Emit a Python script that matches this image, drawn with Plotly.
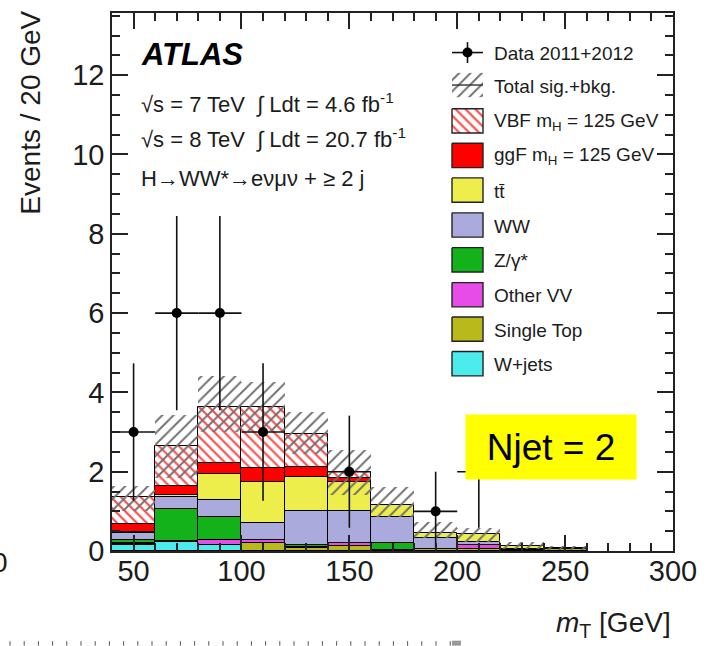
import numpy as np
import plotly.graph_objects as go

# ---------------------------------------------------------------- data
bin_lo = [40, 60, 80, 100, 120, 140, 160, 180, 200, 220, 240]
bin_width = 20

w_jets     = [0.15, 0.23, 0.15, 0.00, 0.00, 0.00, 0.00, 0.00, 0.00, 0.00, 0.00]
single_top = [0.03, 0.02, 0.00, 0.19, 0.07, 0.12, 0.03, 0.05, 0.06, 0.02, 0.04]
other_vv   = [0.03, 0.00, 0.12, 0.08, 0.04, 0.09, 0.00, 0.00, 0.09, 0.04, 0.00]
z_gamma    = [0.08, 0.80, 0.59, 0.00, 0.04, 0.00, 0.16, 0.00, 0.00, 0.00, 0.00]
ww         = [0.17, 0.30, 0.42, 0.44, 0.86, 0.80, 0.67, 0.27, 0.08, 0.00, 0.00]
ttbar      = [0.03, 0.06, 0.67, 1.03, 0.86, 0.73, 0.30, 0.14, 0.20, 0.07, 0.03]
ggf        = [0.19, 0.23, 0.27, 0.36, 0.25, 0.11, 0.00, 0.00, 0.00, 0.00, 0.00]
vbf        = [0.69, 1.00, 1.41, 1.53, 0.82, 0.14, 0.00, 0.00, 0.00, 0.00, 0.00]

band_up    = [0.27, 0.78, 0.79, 0.62, 0.56, 0.56, 0.46, 0.28, 0.16, 0.09, 0.05]
band_down  = [0.35, 0.80, 0.63, 0.60, 0.50, 0.58, 0.30, 0.14, 0.20, 0.07, 0.05]

data_x = [50, 70, 90, 110, 150, 190, 210]
data_y = [3, 6, 6, 3, 2, 1, 2]

x_ticks = [50, 100, 150, 200, 250, 300]
y_ticks = [0, 2, 4, 6, 8, 10, 12]

legend_labels = [
    "Data 2011+2012",
    "Total sig.+bkg.",
    "VBF m<sub>H</sub> = 125 GeV",
    "ggF m<sub>H</sub> = 125 GeV",
    "tt\u0304",
    "WW",
    "Z/\u03b3*",
    "Other VV",
    "Single Top",
    "W+jets",
]

# ---------------------------------------------------------------- style
FONT = "Liberation Sans, Arial, sans-serif"
INK = "#1c1c1c"

# stack order, bottom to top
stack = [
    ("W+jets",     w_jets,     "#4cecec"),
    ("Single Top", single_top, "#b9b91c"),
    ("Other VV",   other_vv,   "#e84ce8"),
    ("Z/gamma*",   z_gamma,    "#14b21a"),
    ("WW",         ww,         "#aaaadc"),
    ("ttbar",      ttbar,      "#eded4c"),
    ("ggF",        ggf,        "#ff0000"),
    ("VBF",        vbf,        None),
]

centers = np.array(bin_lo) + bin_width / 2

fig = go.Figure()

base = np.zeros(len(bin_lo))
for name, vals, color in stack:
    vals = np.array(vals, dtype=float)
    y = [v if v > 0 else None for v in vals]
    if color is None:
        marker = dict(color="white",
                      pattern=dict(shape="\\", fgcolor="#ff4a4a", bgcolor="white",
                                   size=7, solidity=0.3, fillmode="replace"),
                      line=dict(color="black", width=1))
    else:
        marker = dict(color=color, line=dict(color="black", width=1))
    fig.add_trace(go.Bar(x=centers, y=y, base=base.copy(), width=bin_width,
                         marker=marker, name=name, showlegend=False,
                         hoverinfo="skip"))
    base += vals

total = base
up = np.array(band_up)
dn = np.array(band_down)
fig.add_trace(go.Bar(
    x=centers, y=up + dn, base=total - dn, width=bin_width,
    marker=dict(color="rgba(0,0,0,0)",
                pattern=dict(shape="/", fgcolor="#707070", size=8, solidity=0.24,
                             fillmode="replace"),
                line=dict(width=0)),
    showlegend=False, hoverinfo="skip"))

dy = np.sqrt(np.array(data_y, dtype=float))
fig.add_trace(go.Scatter(
    x=data_x, y=data_y, mode="markers",
    marker=dict(color="black", size=10),
    error_y=dict(type="data", array=dy, color="#111", thickness=1.6, width=0),
    error_x=dict(type="constant", value=bin_width / 2, color="#111",
                 thickness=1.6, width=0),
    showlegend=False, hoverinfo="skip"))

# ---------------------------------------------------------------- legend (pixel overlay axes)
L_X0, L_X1 = 452, 483
row_y = [50.7, 83.3, 119.3, 154.0, 188.7, 223.8, 258.7, 293.8, 328.3, 363.0]
half_h = 12.2


def box(y):
    return [L_X0, L_X1, L_X1, L_X0, L_X0], [y - half_h, y - half_h, y + half_h, y + half_h, y - half_h]


# data marker
fig.add_trace(go.Scatter(x=[L_X0, L_X1], y=[row_y[0]] * 2, mode="lines",
                         line=dict(color="#111", width=1.6), xaxis="x2", yaxis="y2",
                         showlegend=False, hoverinfo="skip"))
mid = (L_X0 + L_X1) / 2
fig.add_trace(go.Scatter(x=[mid, mid], y=[row_y[0] - 10.5, row_y[0] + 10.5], mode="lines",
                         line=dict(color="#111", width=1.6), xaxis="x2", yaxis="y2",
                         showlegend=False, hoverinfo="skip"))
fig.add_trace(go.Scatter(x=[mid], y=[row_y[0]], mode="markers",
                         marker=dict(color="black", size=10), xaxis="x2", yaxis="y2",
                         showlegend=False, hoverinfo="skip"))

# total band swatch
bx, by = box(row_y[1])
fig.add_trace(go.Scatter(x=bx, y=by, mode="lines", fill="toself",
                         fillcolor="rgba(0,0,0,0)",
                         fillpattern=dict(shape="/", fgcolor="#707070", size=8,
                                          solidity=0.24, fillmode="replace"),
                         line=dict(color="rgba(0,0,0,0)", width=0),
                         xaxis="x2", yaxis="y2", showlegend=False, hoverinfo="skip"))
fig.add_trace(go.Scatter(x=[L_X0, L_X1], y=[row_y[1]] * 2, mode="lines",
                         line=dict(color="#333", width=1.4), xaxis="x2", yaxis="y2",
                         showlegend=False, hoverinfo="skip"))

# process swatches (legend order is the stack reversed)
for (name, vals, color), y in zip(reversed(stack), row_y[2:]):
    bx, by = box(y)
    if color is None:
        fig.add_trace(go.Scatter(x=bx, y=by, mode="lines", fill="toself",
                                 fillcolor="white",
                                 fillpattern=dict(shape="\\", fgcolor="#ff4a4a",
                                                  bgcolor="white", size=7, solidity=0.3,
                                                  fillmode="replace"),
                                 line=dict(color="#222", width=1.4),
                                 xaxis="x2", yaxis="y2", showlegend=False,
                                 hoverinfo="skip"))
    else:
        fig.add_trace(go.Scatter(x=bx, y=by, mode="lines", fill="toself",
                                 fillcolor=color, line=dict(color="#222", width=1.4),
                                 xaxis="x2", yaxis="y2", showlegend=False,
                                 hoverinfo="skip"))

# ---------------------------------------------------------------- layout
PL, PR, PT, PB = 112, 673, 11, 551
W, H = 719, 646


def px(x):
    return (x - PL) / (PR - PL)


def py(y):
    return (PB - y) / (PB - PT)


annotations = []
for lab, y in zip(legend_labels, row_y):
    annotations.append(dict(text=lab, x=px(492), y=py(y + 1), xref="paper", yref="paper",
                            xanchor="left", yanchor="middle", showarrow=False,
                            font=dict(family=FONT, size=19, color=INK)))

annotations += [
    dict(text="<b><i>ATLAS</i></b>", x=px(139), y=py(53), xref="paper", yref="paper",
         xanchor="left", yanchor="middle", showarrow=False,
         font=dict(family=FONT, size=31, color="black")),
    dict(text="\u221as = 7 TeV  \u222b Ldt = 4.6 fb<sup>-1</sup>", x=px(139), y=py(101),
         xref="paper", yref="paper", xanchor="left", yanchor="middle", showarrow=False,
         font=dict(family=FONT, size=22, color=INK)),
    dict(text="\u221as = 8 TeV  \u222b Ldt = 20.7 fb<sup>-1</sup>", x=px(139), y=py(136),
         xref="paper", yref="paper", xanchor="left", yanchor="middle", showarrow=False,
         font=dict(family=FONT, size=22, color=INK)),
    dict(text="H\u2192WW*\u2192e\u03bd\u03bc\u03bd + \u2265 2 j", x=px(139), y=py(177),
         xref="paper", yref="paper", xanchor="left", yanchor="middle", showarrow=False,
         font=dict(family=FONT, size=22, color=INK)),
    dict(text="Njet = 2", x=px(551), y=py(447), xref="paper", yref="paper",
         xanchor="center", yanchor="middle", showarrow=False, width=170, height=64,
         bgcolor="#ffff00", borderpad=0,
         font=dict(family=FONT, size=37, color="black")),
    dict(text="Events / 20 GeV", x=px(31), y=py(111), xref="paper", yref="paper",
         xanchor="center", yanchor="middle", textangle=-90, showarrow=False,
         font=dict(family=FONT, size=28, color=INK)),
    dict(text="<i>m</i><sub>T</sub> [GeV]", x=px(673), y=py(625), xref="paper",
         yref="paper", xanchor="right", yanchor="middle", showarrow=False,
         font=dict(family=FONT, size=28, color=INK)),
    # neighbouring panel fragments at the page edges
    dict(text="0", x=px(0), y=py(563), xref="paper", yref="paper",
         xanchor="center", yanchor="middle", showarrow=False,
         font=dict(family=FONT, size=28, color=INK)),
]

# ruler-like axis fragment along the bottom edge of the page
shapes = []
for i in range(32):
    xp = 10 + 14.2 * i
    shapes.append(dict(type="line", xref="paper", yref="paper",
                       x0=px(xp), x1=px(xp), y0=py(641.5), y1=py(646),
                       line=dict(color="#555", width=1)))
shapes.append(dict(type="rect", xref="paper", yref="paper",
                   x0=px(452), x1=px(461), y0=py(641), y1=py(646),
                   fillcolor="#999", line=dict(width=0)))

axis_common = dict(
    ticks="inside", ticklen=16, tickwidth=1.5, tickcolor="#222",
    showline=True, linecolor="#222", linewidth=1.6, mirror="ticks",
    showgrid=False, zeroline=False,
    tickfont=dict(family=FONT, size=29, color=INK),
)

fig.update_layout(
    width=W, height=H,
    margin=dict(l=PL, r=W - PR, t=PT, b=H - PB),
    paper_bgcolor="white", plot_bgcolor="white",
    barmode="overlay", bargap=0,
    showlegend=False,
    xaxis=dict(range=[40, 300], tickvals=x_ticks, ticklabelstandoff=-7,
               minor=dict(dtick=10, tick0=0, ticklen=8, tickwidth=1.5, tickcolor="#222",
                          ticks="inside", showgrid=False),
               **axis_common),
    yaxis=dict(range=[0, (PB - PT) / 39.8], tickvals=y_ticks,
               minor=dict(dtick=0.5, tick0=0, ticklen=8, tickwidth=1.5, tickcolor="#222",
                          ticks="inside", showgrid=False),
               **axis_common),
    xaxis2=dict(overlaying="x", range=[PL, PR], visible=False),
    yaxis2=dict(overlaying="y", range=[PB, PT], visible=False),
    annotations=annotations,
    shapes=shapes,
)

fig.write_html("out.html")
